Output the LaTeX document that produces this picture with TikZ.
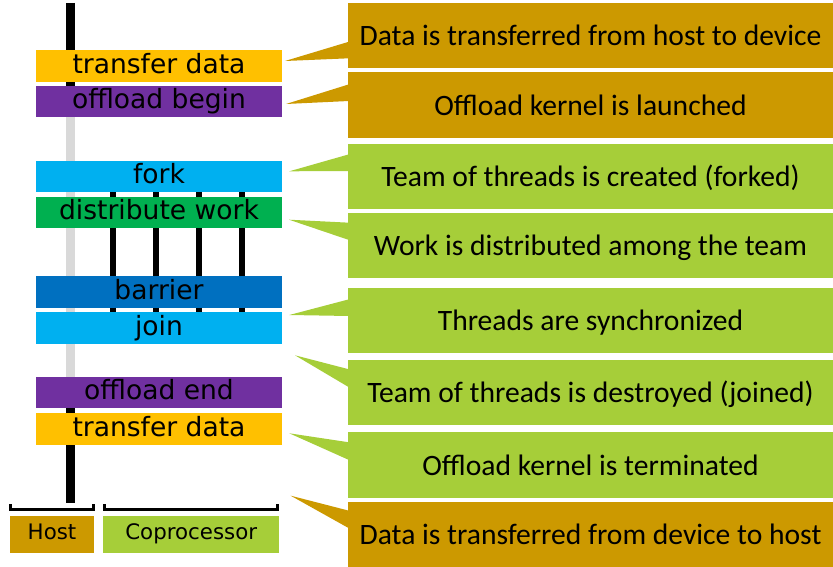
\documentclass[tikz,border=0pt]{standalone}
\usepackage{fontspec}
\setmainfont{DejaVu Sans}
\newfontfamily\calloutfont{Carlito}

\definecolor{hostgold}{HTML}{CC9900}
\definecolor{copgreen}{HTML}{A6CE39}
\definecolor{xferyellow}{HTML}{FFC000}
\definecolor{offpurple}{HTML}{7030A0}
\definecolor{teamblue}{HTML}{00B0F0}
\definecolor{workgreen}{HTML}{00B050}
\definecolor{syncblue}{HTML}{0070C0}
\definecolor{idlegray}{HTML}{D9D9D9}

\begin{document}
\begin{tikzpicture}[x=0.75pt,y=-0.75pt,
  stagebox/.style={minimum width=184.5pt,minimum height=23.6pt,inner sep=0pt,outer sep=0pt,
    font=\fontsize{19.9}{21}\selectfont,text height=14.6pt,text depth=3.6pt},
  callbox/.style={minimum width=363.75pt,minimum height=48.8pt,inner sep=0pt,outer sep=0pt,
    font=\calloutfont\fontsize{22.2}{23}\selectfont,text height=18.5pt,text depth=3.3pt},
  legendbox/.style={minimum height=27.75pt,inner sep=0pt,outer sep=0pt,
    font=\fontsize{16}{17}\selectfont,text height=11.8pt,text depth=3.3pt},
  hostline/.style={line width=6.75pt},
  thread/.style={line width=4.5pt,black},
  bracket/.style={line width=2pt,black}]
\useasboundingbox (0,0) rectangle (833,567);

% host timeline
\coordinate (htop) at (70.5,3);
\coordinate (hidle) at (70.5,117);
\coordinate (hback) at (70.5,377);
\coordinate (hbot) at (70.5,503);
\draw[hostline,black] (htop) -- (hidle);
\draw[hostline,idlegray] (hidle) -- (hback);
\draw[hostline,black] (hback) -- (hbot);

% stages of the offloaded region
\node[stagebox,fill=xferyellow] (xin)   at (159,66)    {transfer data};
\node[stagebox,fill=offpurple]  (obeg)  at (159,101.5) {offload begin};
\node[stagebox,fill=teamblue]   (fork)  at (159,176.5) {fork};
\node[stagebox,fill=workgreen]  (dist)  at (159,212.5) {distribute work};
\node[stagebox,fill=syncblue]   (bar)   at (159,292)   {barrier};
\node[stagebox,fill=teamblue]   (join)  at (159,328)   {join};
\node[stagebox,fill=offpurple]  (oend)  at (159,392.5) {offload end};
\node[stagebox,fill=xferyellow] (xout)  at (159,429)   {transfer data};

% worker threads between fork and join
\foreach \x in {112.7,155.7,199,242}
  \draw[thread] (fork.south -| \x,0) -- (dist.north -| \x,0)
                (dist.south -| \x,0) -- (bar.north -| \x,0)
                (bar.south -| \x,0) -- (join.north -| \x,0);

% explanations
\node[callbox,fill=hostgold] (c1) at (590.5,35.8)  {Data is transferred from host to device};
\node[callbox,fill=hostgold] (c2) at (590.5,105)   {Offload kernel is launched};
\node[callbox,fill=copgreen] (c3) at (590.5,176.2) {Team of threads is created (forked)};
\node[callbox,fill=copgreen] (c4) at (590.5,245.5) {Work is distributed among the team};
\node[callbox,fill=copgreen] (c5) at (590.5,320.3) {Threads are synchronized};
\node[callbox,fill=copgreen] (c6) at (590.5,392.5) {Team of threads is destroyed (joined)};
\node[callbox,fill=copgreen] (c7) at (590.5,465)   {Offload kernel is terminated};
\node[callbox,fill=hostgold] (c8) at (590.5,534.4) {Data is transferred from device to host};

% callout pointers
\coordinate (p1) at (285,61);
\coordinate (p2) at (286,104);
\coordinate (p3) at (289.3,171.3);
\coordinate (p4) at (289,219.7);
\coordinate (p5) at (289.3,315);
\coordinate (p6) at (295,355.3);
\coordinate (p7) at (289.3,433.3);
\coordinate (p8) at (290.7,495.7);
\fill[hostgold] (349,41.7)  -- (p1) -- (349,58.3)  -- cycle;
\fill[hostgold] (349,84.3)  -- (p2) -- (349,101)   -- cycle;
\fill[copgreen] (349,154.3) -- (p3) -- (349,171)   -- cycle;
\fill[copgreen] (349,222.7) -- (p4) -- (349,240)   -- cycle;
\fill[copgreen] (349,299.3) -- (p5) -- (349,316)   -- cycle;
\fill[copgreen] (349,369.3) -- (p6) -- (349,387.3) -- cycle;
\fill[copgreen] (349,442.3) -- (p7) -- (349,460)   -- cycle;
\fill[hostgold] (349,510.7) -- (p8) -- (349,528.3) -- cycle;

% legend
\node[legendbox,minimum width=63pt,fill=hostgold]    (host) at (52,534.2)    {Host};
\node[legendbox,minimum width=131.8pt,fill=copgreen] (cop)  at (191.2,534.2) {Coprocessor};
\draw[bracket] (10.7,504) -- (10.7,509.7) -- (93.3,509.7) -- (93.3,504);
\draw[bracket] (104.7,504) -- (104.7,509.7) -- (277.3,509.7) -- (277.3,504);
\end{tikzpicture}
\end{document}
